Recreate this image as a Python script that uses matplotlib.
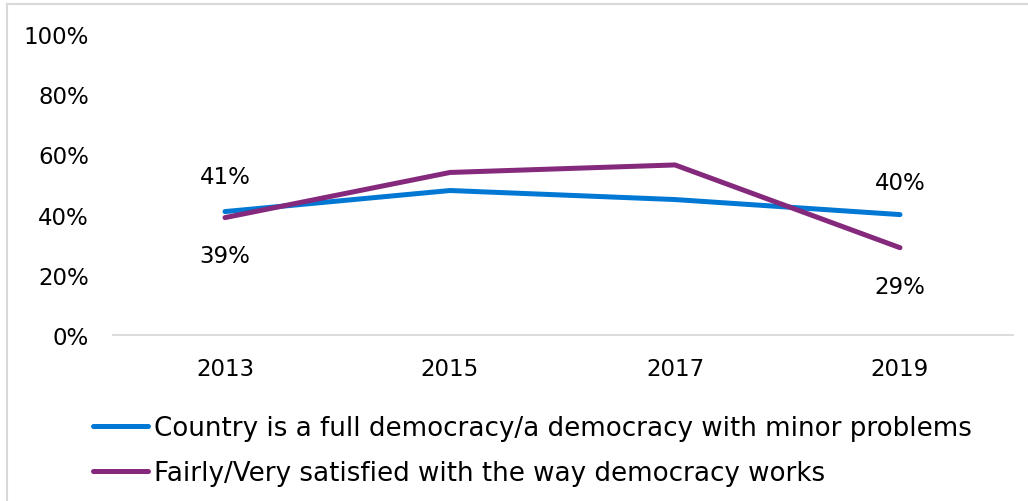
import matplotlib
matplotlib.use("Agg")
import matplotlib.pyplot as plt
from matplotlib.lines import Line2D

years = ["2013", "2015", "2017", "2019"]
full_democracy = [41, 48, 45, 40]
satisfied = [39, 54, 56.5, 29]
series_names = ["Country is a full democracy/a democracy with minor problems",
                "Fairly/Very satisfied with the way democracy works"]
yticks = [0, 20, 40, 60, 80, 100]

BLUE = "#0078D4"
PURPLE = "#84297C"
FONT = "DejaVu Sans"
plt.rcParams['font.family'] = [FONT]

fig = plt.figure(figsize=(10.28, 5.02), dpi=100)
W, H = 1028, 502
ax = fig.add_axes([112.5 / W, (H - 336) / H, 900 / W, 301 / H])

x = list(range(len(years)))
ax.plot(x, full_democracy, color=BLUE, lw=3.6, solid_capstyle="round")
ax.plot(x, satisfied, color=PURPLE, lw=3.6, solid_capstyle="round")

ax.set_xlim(-0.5, len(years) - 0.5)
ax.set_ylim(0, 100)
ax.set_xticks(x)
ax.set_xticklabels(years)
ax.set_yticks(yticks)
ax.set_yticklabels([f"{v}%" for v in yticks])
ax.tick_params(length=0, labelsize=16.5, colors="#000000")
ax.tick_params(axis="y", pad=17)
ax.tick_params(axis="x", pad=16)
for s in ["top", "right", "left"]:
    ax.spines[s].set_visible(False)
ax.spines["bottom"].set_color("#D9D9D9")
ax.spines["bottom"].set_linewidth(1.3)

# data labels for first and last points
fs = 16.5
ax.annotate(f"{full_democracy[0]:.0f}%", (0, full_democracy[0]), xytext=(0, 17),
            textcoords="offset points", ha="center", va="bottom", fontsize=fs)
ax.annotate(f"{satisfied[0]:.0f}%", (0, satisfied[0]), xytext=(0, -19),
            textcoords="offset points", ha="center", va="top", fontsize=fs)
ax.annotate(f"{full_democracy[-1]:.0f}%", (3, full_democracy[-1]), xytext=(0, 15),
            textcoords="offset points", ha="center", va="bottom", fontsize=fs)
ax.annotate(f"{satisfied[-1]:.0f}%", (3, satisfied[-1]), xytext=(0, -20),
            textcoords="offset points", ha="center", va="top", fontsize=fs)

handles = [Line2D([], [], color=BLUE, lw=3.6, solid_capstyle="round"),
           Line2D([], [], color=PURPLE, lw=3.6, solid_capstyle="round")]
fig.legend(handles, series_names, loc="upper left", bbox_to_anchor=(83 / W, 1 - 406 / H),
           frameon=False, fontsize=18.8, handlelength=2.1, handletextpad=0.2,
           labelspacing=0.72, borderaxespad=0)

# chart frame (left and top edges visible)
fig.add_artist(Line2D([6.5 / W, 6.5 / W], [0, 1 - 5 / H], color="#D9D9D9", lw=1.5))
fig.add_artist(Line2D([6.5 / W, 1], [1 - 5 / H, 1 - 5 / H], color="#D9D9D9", lw=1.5))

fig.savefig("out.png", dpi=100, facecolor="white")
